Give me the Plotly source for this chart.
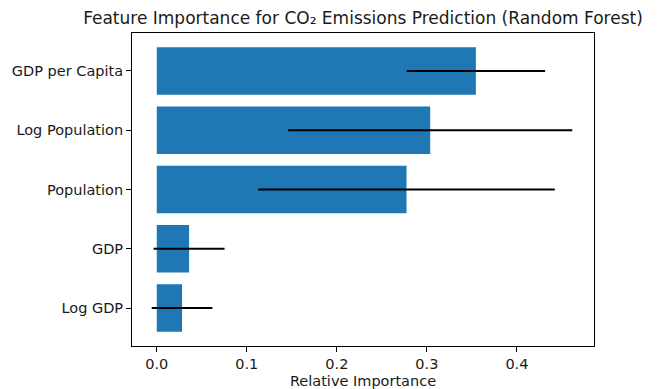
import plotly.graph_objects as go

features = ["Log GDP", "GDP", "Population", "Log Population", "GDP per Capita"]
importance = [0.0281, 0.0359, 0.2774, 0.3037, 0.3544]
std_dev = [0.0337, 0.0394, 0.1647, 0.1578, 0.0769]

fig = go.Figure()
fig.add_trace(go.Bar(
    x=importance, y=list(range(len(features))), orientation="h",
    width=0.8,
    marker=dict(color="#1f77b4", line=dict(width=0)),
    error_x=dict(type="data", array=std_dev, visible=True, color="black", thickness=2, width=0),
))

L, R, T, B = 132, 63, 33, 43
fig.update_layout(
    width=657, height=389,
    margin=dict(l=L, r=R, t=T, b=B, autoexpand=False),
    plot_bgcolor="white", paper_bgcolor="white",
    font=dict(family="DejaVu Sans", size=14.5, color="#1a1a1a"),
    showlegend=False,
    title=dict(text="Feature Importance for CO₂ Emissions Prediction (Random Forest)",
               x=(L + (657 - R)) / 2 / 657, xanchor="center", y=1 - 18 / 389, yanchor="middle",
               font=dict(size=17, color="#1a1a1a")),
)
fig.update_xaxes(
    range=[-0.0275, 0.4856], tickvals=[0, 0.1, 0.2, 0.3, 0.4], ticktext=["0.0", "0.1", "0.2", "0.3", "0.4"],
    ticks="outside", ticklen=5, tickcolor="black", showgrid=False, zeroline=False,
    showline=True, linecolor="black", linewidth=1, mirror=True,
    title=dict(text="Relative Importance", standoff=4, font=dict(size=14.5)),
)
fig.update_yaxes(
    range=[-0.64, 4.64], tickvals=list(range(len(features))), ticktext=features,
    ticks="outside", ticklen=5, tickcolor="black", showgrid=False, zeroline=False,
    showline=True, linecolor="black", linewidth=1, mirror=True,
)
fig.write_html("out.html", config={"displayModeBar": False},
               post_script="document.body.style.margin='0';")
